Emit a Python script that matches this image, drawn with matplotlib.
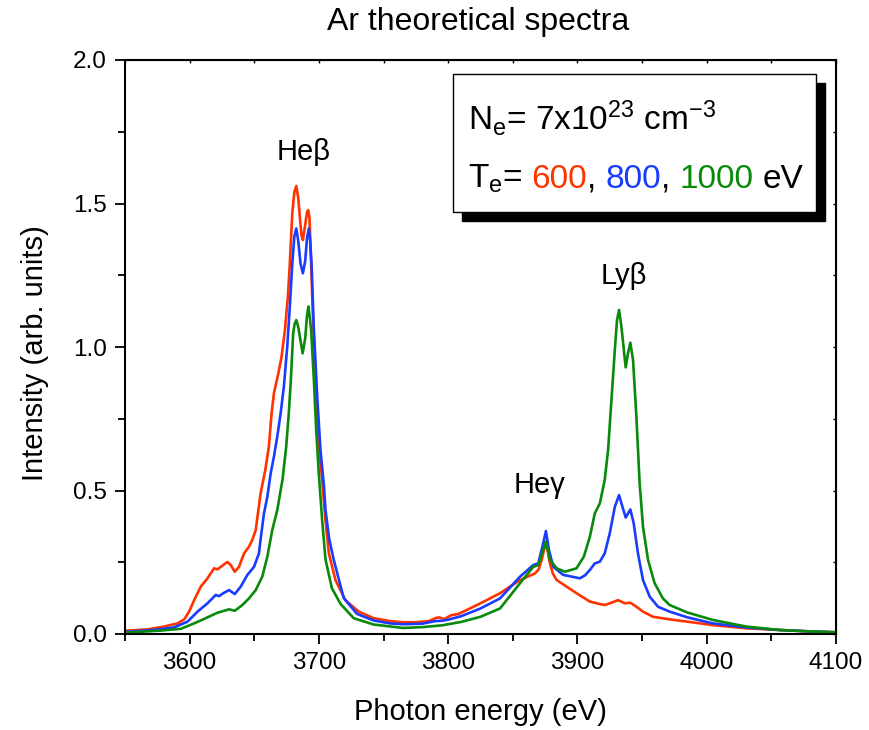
import matplotlib
matplotlib.use("Agg")
import matplotlib.pyplot as plt
from matplotlib.patches import Rectangle
from matplotlib.ticker import MultipleLocator, FormatStrFormatter

plt.rcParams['font.family'] = ['Liberation Sans', 'DejaVu Sans']
plt.rcParams['mathtext.fontset'] = 'custom'
plt.rcParams['mathtext.rm'] = 'Liberation Sans'
plt.rcParams['mathtext.it'] = 'Liberation Sans:italic'

# ---- data (photon energy eV, intensity arb. units)
e_600 = [3550, 3552, 3567.5, 3580.3, 3590.7, 3595.8, 3599.6, 3603.5, 3608.6, 3613.8, 3618.9, 3621.5,
         3624.1, 3629.2, 3631.8, 3634.9, 3638.2, 3642.1, 3645.9, 3648.5, 3651.1, 3654.9, 3658.5,
         3661.3, 3663.4, 3665.2, 3668.6, 3671.1, 3673.7, 3676, 3677.5, 3679.4, 3681, 3682.5, 3684,
         3685.3, 3686.5, 3687.6, 3689.6, 3690.8, 3691.7, 3692.7, 3693.5, 3695.3, 3697.4, 3699.9,
         3702.5, 3705, 3707.7, 3712.8, 3720.5, 3730.8, 3742.4, 3755, 3765, 3775, 3785, 3790, 3793,
         3797, 3802, 3808, 3815, 3825, 3840.1, 3855.6, 3867.1, 3870, 3872.3, 3874.5, 3875.6, 3877,
         3878.7, 3881, 3883.9, 3891.6, 3900, 3909.6, 3914.7, 3921.1, 3926.3, 3931.4, 3936.6,
         3940.9, 3945.6, 3950.7, 3958.4, 3971.3, 3985, 4004.7, 4030.4, 4056.2, 4080, 4100]
i_600 = [0.010, 0.012, 0.016, 0.026, 0.037, 0.051, 0.078, 0.118, 0.165, 0.194, 0.229, 0.225,
         0.234, 0.251, 0.240, 0.217, 0.234, 0.281, 0.304, 0.328, 0.362, 0.49, 0.571,
         0.653, 0.769, 0.839, 0.908, 0.966, 1.059, 1.175, 1.291, 1.466, 1.54, 1.561, 1.52,
         1.45, 1.39, 1.373, 1.432, 1.47, 1.477, 1.45, 1.349, 1.117, 0.885, 0.653,
         0.537, 0.40, 0.281, 0.188, 0.118, 0.078, 0.055, 0.045, 0.041, 0.041, 0.045, 0.055, 0.058,
         0.052, 0.065, 0.07, 0.085, 0.107, 0.142, 0.188, 0.211, 0.225, 0.258, 0.30, 0.316, 0.29,
         0.246, 0.21, 0.188, 0.165, 0.14, 0.113, 0.107, 0.101, 0.109, 0.118, 0.107,
         0.109, 0.095, 0.078, 0.06, 0.051, 0.043, 0.031, 0.02, 0.014, 0.009, 0.006]

e_800 = [3550, 3552, 3572.6, 3588, 3598.4, 3606.1, 3613.8, 3620.2, 3622.8, 3626, 3630.5, 3634.9,
         3639.5, 3644.7, 3649.8, 3653.6, 3654.9, 3657.5, 3660.1, 3662.7, 3665.2, 3667.8, 3670.4,
         3672.9, 3675.5, 3677.5, 3679.4, 3681, 3682.5, 3684, 3685.8, 3687.6, 3689.4, 3690.8,
         3692.2, 3693.2, 3694.3, 3696.1, 3698.7, 3701.2, 3703.8, 3705.1, 3708, 3711.5, 3719.2,
         3729.5, 3742.4, 3755, 3765, 3780, 3790, 3795, 3800, 3810, 3825, 3840.1, 3855.6, 3865.8,
         3869.7, 3873.5, 3875.6, 3877.9, 3881.3, 3889, 3901.9, 3906, 3909.6, 3913.4, 3917.3,
         3921.1, 3925, 3928.9, 3932.2, 3934.8, 3937.3, 3940.9, 3943.5, 3946.8, 3950.7, 3955.9,
         3962.3, 3971.3, 3985, 4004.7, 4030.4, 4056.2, 4080, 4100]
i_800 = [0.006, 0.008, 0.014, 0.023, 0.043, 0.078, 0.107, 0.136, 0.132, 0.142, 0.153, 0.139,
         0.165, 0.206, 0.234, 0.281, 0.33, 0.42, 0.478, 0.56, 0.618, 0.688, 0.769,
         0.862, 1.001, 1.14, 1.291, 1.385, 1.413, 1.37, 1.29, 1.257, 1.30, 1.38,
         1.413, 1.37, 1.291, 1.059, 0.827, 0.641, 0.52, 0.432, 0.33, 0.258, 0.125,
         0.07, 0.047, 0.037, 0.034, 0.036, 0.045, 0.046, 0.05, 0.062, 0.089, 0.124, 0.2, 0.240,
         0.246, 0.316, 0.359, 0.293, 0.234, 0.206, 0.194, 0.205, 0.223, 0.246, 0.252,
         0.281, 0.351, 0.443, 0.484, 0.443, 0.406, 0.434, 0.386, 0.281, 0.188, 0.13,
         0.095, 0.078, 0.058, 0.037, 0.023, 0.014, 0.009, 0.006]

e_1000 = [3550, 3552, 3577.8, 3593.2, 3603.5, 3613.8, 3621.5, 3630.5, 3634.9, 3640.8, 3645.9,
          3651.1, 3656.2, 3660.1, 3663.9, 3667.8, 3671.9, 3674.7, 3676.7, 3678.3, 3680.1, 3681.2,
          3682.5, 3684, 3685.7, 3687.4, 3689.4, 3690.8, 3691.9, 3693, 3694, 3696.1, 3697.9,
          3699.9, 3702.5, 3705.1, 3710, 3716.7, 3726.9, 3742.4, 3765, 3780, 3795, 3810, 3825,
          3840.1, 3855.6, 3865.8, 3869.7, 3873.5, 3875.6, 3878.7, 3883.9, 3890.3, 3899.3, 3905,
          3909.6, 3913.4, 3917.3, 3921.1, 3923.7, 3926.3, 3928.9, 3930.6, 3932.2, 3934, 3937.3,
          3939.1, 3940.9, 3943, 3945.6, 3948.1, 3950.7, 3954.6, 3959.7, 3966.1, 3971.3, 3985,
          4004.7, 4030.4, 4056.2, 4080, 4100]
i_1000 = [0.004, 0.005, 0.012, 0.018, 0.037, 0.058, 0.074, 0.086, 0.081, 0.101, 0.124,
          0.153, 0.2, 0.269, 0.362, 0.432, 0.54, 0.653, 0.769, 0.885, 1.048, 1.08,
          1.094, 1.07, 1.024, 0.978, 1.03, 1.11, 1.141, 1.10, 1.059, 0.885, 0.711,
          0.56, 0.397, 0.26, 0.16, 0.105, 0.055, 0.033, 0.021, 0.024, 0.03, 0.042, 0.06,
          0.089, 0.177, 0.234, 0.240, 0.293, 0.322, 0.258, 0.229, 0.217, 0.229, 0.27,
          0.339, 0.42, 0.455, 0.537, 0.641, 0.815, 0.99, 1.094, 1.129, 1.071, 0.929,
          0.978, 1.015, 0.955, 0.757, 0.525, 0.374, 0.258, 0.177, 0.124, 0.101, 0.075,
          0.049, 0.026, 0.014, 0.009, 0.006]

colors = ['#ff3300', '#1a3cff', '#0a8a0a']
series = [(e_600, i_600), (e_800, i_800), (e_1000, i_1000)]

W, H = 869, 730
fig = plt.figure(figsize=(W / 100, H / 100), dpi=100)
ax = fig.add_axes([125 / W, 1 - 634 / H, (836 - 125) / W, (634 - 60) / H])

for (e, i), c in zip(series, colors):
    ax.plot(e, i, color=c, lw=1.9, solid_joinstyle='round', solid_capstyle='round')

ax.set_xlim(3550, 4100)
ax.set_ylim(0, 2.0)
ax.xaxis.set_major_locator(MultipleLocator(100))
ax.xaxis.set_minor_locator(MultipleLocator(50))
ax.yaxis.set_major_locator(MultipleLocator(0.5))
ax.yaxis.set_minor_locator(MultipleLocator(0.25))
ax.yaxis.set_major_formatter(FormatStrFormatter('%.1f'))
for s in ax.spines.values():
    s.set_linewidth(1.5)
ax.tick_params(which='major', direction='out', length=7, width=1.3, labelsize=17.5, pad=6)
ax.tick_params(which='minor', direction='out', length=5, width=1.3)

secx = ax.secondary_xaxis('top')
secx.xaxis.set_major_locator(MultipleLocator(50))
secx.tick_params(direction='in', length=2, width=1, labeltop=False)
secy = ax.secondary_yaxis('right')
secy.yaxis.set_major_locator(MultipleLocator(0.25))
secy.tick_params(direction='in', length=2, width=1, labelright=False)

fig.text(478 / W, 1 - 22 / H, 'Ar theoretical spectra', fontsize=23, ha='center', va='center')
fig.text(480 / W, 1 - 712 / H, 'Photon energy (eV)', fontsize=21, ha='center', va='center')
fig.text(35 / W, 1 - 353 / H, 'Intensity (arb. units)', fontsize=21, ha='center', va='center',
         rotation=90)

ax.text(3688, 1.63, 'Heβ', fontsize=21, ha='center', va='bottom')
ax.text(3936, 1.20, 'Lyβ', fontsize=21, ha='center', va='bottom')
ax.text(3871, 0.47, 'Heγ', fontsize=21, ha='center', va='bottom')

# legend-like box with shadow
bx0, by0, bx1, by1 = 453, 74, 816, 212
sh = 9
fig.patches.append(Rectangle(((bx0 + sh) / W, 1 - (by1 + sh) / H), (bx1 - bx0) / W, (by1 - by0) / H,
                             transform=fig.transFigure, facecolor='black', edgecolor='black', zorder=5))
fig.patches.append(Rectangle((bx0 / W, 1 - by1 / H), (bx1 - bx0) / W, (by1 - by0) / H,
                             transform=fig.transFigure, facecolor='white', edgecolor='black',
                             lw=1.0, zorder=6))

fs = 24
fig.text(468 / W, 1 - 130 / H, r'N$_\mathrm{e}$= 7x10$^{23}$ cm$^{-3}$', fontsize=fs,
         va='baseline', zorder=7)

pieces = [(r'T$_\mathrm{e}$=', 'black', 9), ('600', colors[0], 0), (',', 'black', 9),
          ('800', colors[1], 0), (',', 'black', 9), ('1000', colors[2], 9), ('eV', 'black', 0)]
x = 468
y = 1 - 188 / H
fig.canvas.draw()
r = fig.canvas.get_renderer()
for s, c, gap in pieces:
    t = fig.text(x / W, y, s, fontsize=fs, color=c, va='baseline', zorder=7)
    bb = t.get_window_extent(renderer=r)
    x = bb.x1 + gap

fig.savefig('out.png', dpi=100)
